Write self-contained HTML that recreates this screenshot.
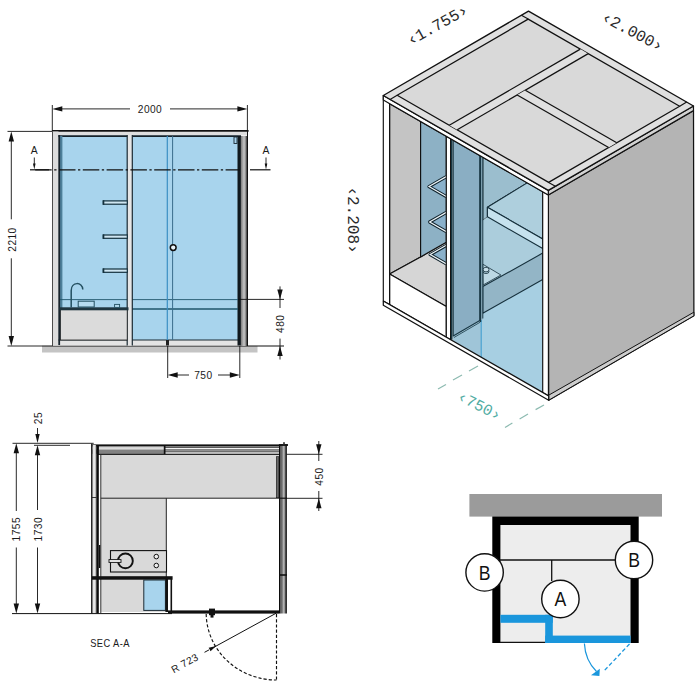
<!DOCTYPE html>
<html>
<head>
<meta charset="utf-8">
<style>
html,body{margin:0;padding:0;background:#fff;}
body{width:700px;height:700px;overflow:hidden;font-family:"Liberation Sans",sans-serif;}
svg{display:block;}
text{font-family:"Liberation Sans",sans-serif;fill:#1a1a1a;}
.dim{font-size:10.2px;letter-spacing:0.45px;}
.lbl{font-size:10.4px;}
.mono{font-family:"Liberation Mono",monospace;font-size:16px;fill:#2a2a2a;}
.monot{font-family:"Liberation Mono",monospace;font-size:15.6px;fill:#52ada4;}
.key{font-size:20px;fill:#111;}
</style>
</head>
<body>
<svg width="700" height="700" viewBox="0 0 700 700">
<rect width="700" height="700" fill="#fff"/>
<g id="front">
<rect x="42" y="346" width="215.5" height="6.5" fill="#c4c4c4" />
<line x1="42" y1="346" x2="284" y2="346" stroke="#111" stroke-width="1.2" />
<rect x="59.5" y="135.5" width="178.5" height="204.5" fill="#a8d4ed" />
<rect x="52.5" y="131.5" width="195" height="4" fill="#dedede" />
<line x1="52" y1="130.9" x2="248.6" y2="130.9" stroke="#111" stroke-width="1.7" />
<line x1="58" y1="136.1" x2="241" y2="136.1" stroke="#16222a" stroke-width="1.6" />
<rect x="52.5" y="340" width="195" height="5.5" fill="#e4e4e4" />
<line x1="58" y1="340" x2="240" y2="340" stroke="#1b2a33" stroke-width="1" />
<rect x="52.5" y="131.5" width="6" height="214" fill="#dcdcdc" />
<line x1="52.5" y1="131.5" x2="52.5" y2="346" stroke="#222" stroke-width="0.8" />
<rect x="59.8" y="136" width="2.6" height="204" fill="#4d7f99" />
<line x1="59.2" y1="135" x2="59.2" y2="345" stroke="#16222a" stroke-width="1.8" />
<defs><linearGradient id="rw" x1="0" x2="1" y1="0" y2="0"><stop offset="0" stop-color="#777"/><stop offset="0.3" stop-color="#a8a8a8"/><stop offset="0.5" stop-color="#c6c6c6"/><stop offset="0.75" stop-color="#8a8a8a"/><stop offset="0.9" stop-color="#444"/><stop offset="1" stop-color="#222"/></linearGradient></defs>
<rect x="240.8" y="136" width="6.6" height="210" fill="url(#rw)" />
<rect x="237.5" y="136" width="3.4" height="209.5" fill="#10181d" />
<line x1="247.5" y1="130.5" x2="247.5" y2="346" stroke="#111" stroke-width="1" />
<line x1="60" y1="299.6" x2="238" y2="299.6" stroke="#1f566b" stroke-width="0.9" />
<line x1="132" y1="309" x2="238" y2="309" stroke="#1f566b" stroke-width="1.3" />
<line x1="167.3" y1="136" x2="167.3" y2="345" stroke="#3c8fc4" stroke-width="1.2" />
<line x1="172.6" y1="136" x2="172.6" y2="340" stroke="#3a6d8c" stroke-width="1" />
<rect x="166" y="340" width="3" height="5.5" fill="#222" />
<rect x="127.2" y="135" width="5" height="210.5" fill="#e6e6e6" />
<line x1="127.2" y1="135" x2="127.2" y2="345.5" stroke="#1b2a33" stroke-width="1.2" />
<line x1="132.3" y1="135" x2="132.3" y2="345.5" stroke="#1b2a33" stroke-width="1.2" />
<rect x="103.3" y="200.9" width="24" height="3.3" fill="#cfe6f2" stroke="#13303d" stroke-width="1.2" />
<rect x="102.7" y="200.3" width="1.6" height="4.5" fill="#13303d" />
<rect x="103.3" y="235" width="24" height="3.3" fill="#cfe6f2" stroke="#13303d" stroke-width="1.2" />
<rect x="102.7" y="234.4" width="1.6" height="4.5" fill="#13303d" />
<rect x="103.3" y="269" width="24" height="3.3" fill="#cfe6f2" stroke="#13303d" stroke-width="1.2" />
<rect x="102.7" y="268.4" width="1.6" height="4.5" fill="#13303d" />
<rect x="60.5" y="309.5" width="66.7" height="30.5" fill="#dbdbdb" stroke="#222" stroke-width="0.8" />
<rect x="59.5" y="307.3" width="69" height="3" fill="#1f3641" />
<path d="M71.2 307.5 V290.5 C71.2 281.5 82.5 281.5 82.8 289.5" fill="none" stroke="#234f60" stroke-width="1.500"/>
<rect x="78.2" y="301.2" width="16" height="5.8" fill="#b6dbef" stroke="#234f60" stroke-width="1" />
<rect x="114.6" y="304.4" width="5" height="3" fill="#b6dbef" stroke="#234f60" stroke-width="0.9" />
<circle cx="173.2" cy="247.6" r="2.9" fill="#e8f3f9" stroke="#111" stroke-width="1.5"/>
<rect x="234" y="137" width="3" height="6.5" fill="#a8d4ed" stroke="#1b2a33" stroke-width="0.9" />
<line x1="35.2" y1="169.8" x2="240" y2="169.8" stroke="#111" stroke-width="1.2" stroke-dasharray="16.5 2.5 2.3 2.5"/>
<line x1="30" y1="169.8" x2="49" y2="169.8" stroke="#111" stroke-width="1.2" />
<line x1="250" y1="169.8" x2="270.5" y2="169.8" stroke="#111" stroke-width="1.2" />
<text x="34.3" y="154" class="lbl" text-anchor="middle" >A</text>
<line x1="34.3" y1="157.5" x2="34.3" y2="166" stroke="#111" stroke-width="0.9" />
<polygon points="34.3,169.6 33,163.6 35.6,163.6" fill="#111" />
<text x="266" y="154" class="lbl" text-anchor="middle" >A</text>
<line x1="266" y1="157.5" x2="266" y2="166" stroke="#111" stroke-width="0.9" />
<polygon points="266,169.6 264.7,163.6 267.3,163.6" fill="#111" />
<line x1="52.3" y1="105" x2="52.3" y2="131" stroke="#111" stroke-width="0.9" />
<line x1="247.4" y1="105" x2="247.4" y2="131" stroke="#111" stroke-width="0.9" />
<line x1="60" y1="108.9" x2="130" y2="108.9" stroke="#111" stroke-width="0.9" />
<line x1="170" y1="108.9" x2="240" y2="108.9" stroke="#111" stroke-width="0.9" />
<polygon points="52.3,108.9 62.3,106.2 62.3,111.6" fill="#111" />
<polygon points="247.4,108.9 237.4,111.6 237.4,106.2" fill="#111" />
<text x="150" y="112.6" class="dim" text-anchor="middle" >2000</text>
<line x1="7.5" y1="131.4" x2="52" y2="131.4" stroke="#111" stroke-width="0.9" />
<line x1="7.5" y1="346" x2="42" y2="346" stroke="#111" stroke-width="0.9" />
<line x1="11.3" y1="139" x2="11.3" y2="219.3" stroke="#111" stroke-width="0.9" />
<line x1="11.3" y1="258.3" x2="11.3" y2="338" stroke="#111" stroke-width="0.9" />
<polygon points="11.3,131.4 14,141.4 8.6,141.4" fill="#111" />
<polygon points="11.3,346 8.6,336 14,336" fill="#111" />
<text x="15.6" y="239.5" class="dim" text-anchor="middle" transform="rotate(-90 15.6 239.5)" >2210</text>
<line x1="238" y1="299.4" x2="284" y2="299.4" stroke="#111" stroke-width="0.9" />
<line x1="280" y1="286.4" x2="280" y2="308" stroke="#111" stroke-width="0.9" />
<line x1="280" y1="338.6" x2="280" y2="359.5" stroke="#111" stroke-width="0.9" />
<polygon points="280,299.4 277.3,289.4 282.7,289.4" fill="#111" />
<polygon points="280,346 282.7,356 277.3,356" fill="#111" />
<text x="283.8" y="323.8" class="dim" text-anchor="middle" transform="rotate(-90 283.8 323.8)" >480</text>
<line x1="167.7" y1="346" x2="167.7" y2="378" stroke="#111" stroke-width="0.9" />
<line x1="239.8" y1="346" x2="239.8" y2="378" stroke="#111" stroke-width="0.9" />
<line x1="175" y1="375" x2="189" y2="375" stroke="#111" stroke-width="0.9" />
<line x1="218" y1="375" x2="232" y2="375" stroke="#111" stroke-width="0.9" />
<polygon points="167.7,375 177.7,372.3 177.7,377.7" fill="#111" />
<polygon points="239.8,375 229.8,377.7 229.8,372.3" fill="#111" />
<text x="203.4" y="378.7" class="dim" text-anchor="middle" >750</text>
</g>
<g id="plan">
<rect x="100.6" y="454.5" width="178.5" height="43.7" fill="#d9d9d9" />
<rect x="100.6" y="498" width="65.6" height="114" fill="#d9d9d9" />
<rect x="166.2" y="580" width="6" height="31" fill="#fff" />
<line x1="100.6" y1="498.2" x2="279" y2="498.2" stroke="#222" stroke-width="1" />
<line x1="166.3" y1="498.2" x2="166.3" y2="578" stroke="#222" stroke-width="1" />
<rect x="92" y="446" width="72.8" height="1.5" fill="#9a9a9a" />
<rect x="92" y="447.5" width="72.8" height="2" fill="#dcdcdc" />
<rect x="92" y="449.5" width="72.8" height="4.3" fill="#828282" />
<rect x="164.8" y="446" width="114.4" height="1.3" fill="#8c8c8c" />
<rect x="164.8" y="447.3" width="114.4" height="0.8" fill="#222" />
<rect x="164.8" y="448.1" width="114.4" height="1.4" fill="#f4f4f4" />
<rect x="164.8" y="449.5" width="114.4" height="1" fill="#111" />
<rect x="164.8" y="450.5" width="114.4" height="1" fill="#999" />
<rect x="164.8" y="451.5" width="114.4" height="1" fill="#111" />
<rect x="164.8" y="452.5" width="114.4" height="1.3" fill="#f4f4f4" />
<rect x="92" y="444.4" width="195" height="1.7" fill="#111" />
<rect x="98" y="453.7" width="181.5" height="1.2" fill="#111" />
<rect x="163.8" y="446" width="1.7" height="8" fill="#111" />
<defs><linearGradient id="lw" x1="0" x2="1" y1="0" y2="0"><stop offset="0" stop-color="#8a8a8a"/><stop offset="0.35" stop-color="#f2f2f2"/><stop offset="0.7" stop-color="#e0e0e0"/><stop offset="1" stop-color="#7a7a7a"/></linearGradient><linearGradient id="rw2" x1="0" x2="1" y1="0" y2="0"><stop offset="0" stop-color="#4c4c4c"/><stop offset="0.3" stop-color="#7c7c7c"/><stop offset="0.5" stop-color="#b8b8b8"/><stop offset="0.68" stop-color="#8a8a8a"/><stop offset="0.8" stop-color="#3a3a3a"/><stop offset="1" stop-color="#2a2a2a"/></linearGradient></defs>
<rect x="92.3" y="445" width="4" height="168.5" fill="url(#lw)" />
<rect x="91.1" y="443.6" width="1.2" height="170" fill="#111" />
<rect x="96.3" y="445" width="2.6" height="168.5" fill="#0c0c0c" />
<rect x="98.9" y="455" width="1.4" height="158" fill="#fff" />
<rect x="100.3" y="455" width="1" height="158" fill="#333" />
<line x1="91.5" y1="497.5" x2="96.5" y2="497.5" stroke="#222" stroke-width="0.9" />
<line x1="99.6" y1="545" x2="99.6" y2="568" stroke="#111" stroke-width="1.4" />
<rect x="280.3" y="445" width="6.7" height="168.5" fill="url(#rw2)" />
<rect x="279" y="445" width="1.3" height="168.5" fill="#0c0c0c" />
<rect x="278.9" y="444.1" width="9.1" height="1.8" fill="#111" />
<rect x="283" y="442.2" width="2" height="2" fill="#555" />
<line x1="279" y1="498.2" x2="287" y2="498.2" stroke="#111" stroke-width="1.2" />
<line x1="279" y1="575" x2="287" y2="575" stroke="#111" stroke-width="1.6" />
<rect x="276.3" y="456.7" width="2.6" height="41" fill="#6a6a6a" stroke="#111" stroke-width="0.6" />
<rect x="110.5" y="550.6" width="56" height="21.4" fill="#d9d9d9" stroke="#111" stroke-width="1.1" />
<circle cx="125.4" cy="560.9" r="7.4" fill="#d9d9d9" stroke="#111" stroke-width="1.9"/>
<rect x="109" y="559.6" width="12" height="2.8" fill="#eee" stroke="#111" stroke-width="0.9" />
<circle cx="156.3" cy="556.6" r="2.3" fill="#eee" stroke="#111" stroke-width="1"/>
<circle cx="156.3" cy="565.5" r="2.3" fill="#eee" stroke="#111" stroke-width="1"/>
<rect x="92" y="576.2" width="80.6" height="3.5" fill="#111" />
<rect x="143.8" y="580" width="21.6" height="30.4" fill="#a8d4ed" stroke="#1b2a33" stroke-width="1" />
<rect x="165.4" y="579" width="2.6" height="33" fill="#111" />
<line x1="171.3" y1="579" x2="171.3" y2="612" stroke="#111" stroke-width="1.6" />
<line x1="12" y1="613.6" x2="172" y2="613.6" stroke="#111" stroke-width="1" />
<rect x="168" y="610.4" width="111" height="3.2" fill="#111" />
<rect x="209" y="608.6" width="6" height="6.6" fill="#111" />
<rect x="210.5" y="615" width="3" height="2.6" fill="#111" />
<path d="M206.2 614 A70.3 67 0 0 0 276.5 680" fill="none" stroke="#111" stroke-width="1.15" stroke-dasharray="3.2 2"/>
<line x1="276.5" y1="614" x2="276.5" y2="680" stroke="#111" stroke-width="1.15" stroke-dasharray="3.2 2"/>
<line x1="276.5" y1="613" x2="214" y2="647.2" stroke="#111" stroke-width="1" />
<line x1="204.5" y1="652.3" x2="209" y2="649.9" stroke="#111" stroke-width="1" />
<polygon points="216.2,646 210.55,651.32 208.65,647.8" fill="#111" />
<text x="186.5" y="666.3" class="dim" text-anchor="middle" transform="rotate(-29 186.5 666.3)" >R 723</text>
<text x="90.2" y="646.6" class="dim" text-anchor="start" textLength="39.6" lengthAdjust="spacingAndGlyphs">SEC A-A</text>
<line x1="12.5" y1="443.3" x2="93.7" y2="443.3" stroke="#111" stroke-width="0.9" />
<line x1="16.3" y1="451" x2="16.3" y2="511" stroke="#111" stroke-width="0.9" />
<line x1="16.3" y1="547.5" x2="16.3" y2="606" stroke="#111" stroke-width="0.9" />
<polygon points="16.3,443.3 19,453.3 13.6,453.3" fill="#111" />
<polygon points="16.3,613.6 13.6,603.6 19,603.6" fill="#111" />
<text x="20.5" y="529.2" class="dim" text-anchor="middle" transform="rotate(-90 20.5 529.2)" >1755</text>
<line x1="34" y1="445.3" x2="70" y2="445.3" stroke="#111" stroke-width="0.9" />
<line x1="37.5" y1="453" x2="37.5" y2="510" stroke="#111" stroke-width="0.9" />
<line x1="37.5" y1="547.5" x2="37.5" y2="606" stroke="#111" stroke-width="0.9" />
<polygon points="37.5,445.3 40.2,455.3 34.8,455.3" fill="#111" />
<polygon points="37.5,613.6 34.8,603.6 40.2,603.6" fill="#111" />
<text x="41.7" y="529.2" class="dim" text-anchor="middle" transform="rotate(-90 41.7 529.2)" >1730</text>
<line x1="37.5" y1="428" x2="37.5" y2="434" stroke="#111" stroke-width="0.9" />
<polygon points="37.5,443 35.3,434 39.7,434" fill="#111" />
<text x="41.5" y="418" class="dim" text-anchor="middle" transform="rotate(-90 41.5 418)" >25</text>
<line x1="286.5" y1="454.3" x2="322.5" y2="454.3" stroke="#111" stroke-width="0.9" />
<line x1="286.5" y1="498.3" x2="322.5" y2="498.3" stroke="#111" stroke-width="0.9" />
<line x1="318.8" y1="441" x2="318.8" y2="461" stroke="#111" stroke-width="0.9" />
<line x1="318.8" y1="491" x2="318.8" y2="511" stroke="#111" stroke-width="0.9" />
<polygon points="318.8,454.3 316.1,444.3 321.5,444.3" fill="#111" />
<polygon points="318.8,498.3 321.5,508.3 316.1,508.3" fill="#111" />
<text x="323" y="476.5" class="dim" text-anchor="middle" transform="rotate(-90 323 476.5)" >450</text>
</g>
<g id="key">
<rect x="469.4" y="494" width="192.6" height="22.6" fill="#9b9b9b" />
<rect x="492.3" y="516.5" width="146.4" height="126.5" fill="#000" />
<rect x="500.4" y="525" width="130.1" height="118.2" fill="#ededed" />
<rect x="492.3" y="643" width="146.4" height="1" fill="#fff" />
<line x1="500" y1="560" x2="631" y2="560" stroke="#111" stroke-width="1.3" />
<line x1="551.7" y1="560" x2="551.7" y2="581" stroke="#111" stroke-width="1.3" />
<line x1="500" y1="642.4" x2="546" y2="642.4" stroke="#111" stroke-width="1.3" />
<rect x="500.4" y="614.8" width="52.4" height="8" fill="#1a96dc" />
<rect x="545.2" y="614.8" width="7.6" height="28.2" fill="#1a96dc" />
<rect x="545.2" y="635.6" width="85.4" height="7.4" fill="#1a96dc" />
<circle cx="484.6" cy="572.4" r="18.7" fill="#fff" stroke="#111" stroke-width="1.4"/>
<text class="key" text-anchor="middle" transform="translate(484.6 579.6) scale(0.88 1)">B</text>
<circle cx="634" cy="560" r="18.7" fill="#fff" stroke="#111" stroke-width="1.4"/>
<text class="key" text-anchor="middle" transform="translate(634 567.2) scale(0.88 1)">B</text>
<circle cx="560.4" cy="599" r="18.7" fill="#fff" stroke="#111" stroke-width="1.4"/>
<text class="key" text-anchor="middle" transform="translate(560.4 606.2) scale(0.88 1)">A</text>
<path d="M584.4 643.5 C585 656 590 665 596.5 671.5" fill="none" stroke="#1a96dc" stroke-width="1.2"/>
<polygon points="599.8,668.8 591,675.2 599.4,676" fill="#1a96dc" />
<line x1="629.5" y1="644" x2="603.5" y2="671.5" stroke="#1a96dc" stroke-width="1.3" stroke-dasharray="4 2.4"/>
</g>
<g id="iso" stroke-linejoin="round">
<polygon points="548.3,195 693.5,110.6 693.9,315.8 548.7,400.2" fill="#b4b4b4" stroke="#111" stroke-width="1.25" stroke-linejoin="round" />
<polygon points="548.7,395.2 693.9,312.2 693.9,315.8 548.7,400.2" fill="#cdcdcd" stroke="#111" stroke-width="1.0" stroke-linejoin="round" />
<polygon points="548.3,190.4 693.5,106 693.5,110.6 548.3,195" fill="#d2d2d2" stroke="#111" stroke-width="1.15" stroke-linejoin="round" />
<polygon points="389.6,103.72 420.6,121.55 420.6,256.9 389.6,274" fill="#c4c4c4" stroke="#111" stroke-width="1.15" stroke-linejoin="round" />
<polygon points="389.6,274 420.6,256.9 446.3,242.1 446.3,306.6" fill="#d6d6d6" stroke="#111" stroke-width="1.15" stroke-linejoin="round" />
<polygon points="420.6,121.55 446.3,136.33 446.3,242.3 420.6,256.9" fill="#8db1c5" stroke="#111" stroke-width="1.15" stroke-linejoin="round" />
<polygon points="389.6,274 446.3,306.6 446.3,337.23 389.6,304.62" fill="#fff" stroke="#111" stroke-width="1.15" stroke-linejoin="round" />
<polygon points="446.3,176.62 429,186.6 446.3,196.58" fill="#8ab1cb" />
<polyline points="446.3,176.62 429,186.6 446.3,196.58" fill="none" stroke="#10222b" stroke-width="3.3" stroke-linejoin="round"/>
<polyline points="446.3,176.62 429,186.6 446.3,196.58" fill="none" stroke="#eef6fa" stroke-width="1.2" stroke-linejoin="miter"/>
<polygon points="446.3,212.36 429.6,222 446.3,231.64" fill="#8ab1cb" />
<polyline points="446.3,212.36 429.6,222 446.3,231.64" fill="none" stroke="#10222b" stroke-width="3.3" stroke-linejoin="round"/>
<polyline points="446.3,212.36 429.6,222 446.3,231.64" fill="none" stroke="#eef6fa" stroke-width="1.2" stroke-linejoin="miter"/>
<polygon points="446.3,245.31 430.2,254.6 446.3,263.89" fill="#8ab1cb" />
<polyline points="446.3,245.31 430.2,254.6 446.3,263.89" fill="none" stroke="#10222b" stroke-width="3.3" stroke-linejoin="round"/>
<polyline points="446.3,245.31 430.2,254.6 446.3,263.89" fill="none" stroke="#eef6fa" stroke-width="1.2" stroke-linejoin="miter"/>
<polygon points="482.8,157.33 542.7,191.78 542.7,392.68 453.2,341.2 453.2,336 479.8,320.6 482.8,318" fill="#a7cfe2" />
<polygon points="482.8,157.33 527.2,182.86 487.4,207.2 487.4,216.8 482.8,220.6" fill="#9bbece" stroke="#111" stroke-width="1.0" stroke-linejoin="round" />
<polygon points="482.8,220.6 487.4,216.8 542.7,248.6 542.7,253.1 482.8,286.6" fill="#abcddc" />
<polygon points="482.8,286.6 542.7,253.1 542.7,279.5 482.8,313.2" fill="#93b5c6" stroke="#16303c" stroke-width="1.1" stroke-linejoin="round" />
<polygon points="482.8,264.2 500.9,275 483.1,285" fill="#bcd8e4" stroke="#16303c" stroke-width="0.8" stroke-linejoin="round" />
<ellipse cx="486" cy="271.3" rx="3" ry="2.3" fill="#a9cbd9" stroke="#16303c" stroke-width="0.8"/>
<ellipse cx="486" cy="269.6" rx="3" ry="2.3" fill="#c5dde8" stroke="#16303c" stroke-width="0.8"/>
<polygon points="487.4,207.2 527.2,182.86 542.7,191.78 542.7,239" fill="#aecfdd" stroke="#16303c" stroke-width="1.1" stroke-linejoin="round" />
<polygon points="487.4,207.2 542.7,239 542.7,248.6 487.4,216.8" fill="#c6e2ee" stroke="#16303c" stroke-width="1.1" stroke-linejoin="round" />
<rect x="479.8" y="155.6" width="3" height="164" fill="#95b8c9" />
<line x1="482.8" y1="157.33" x2="482.8" y2="318.5" stroke="#173643" stroke-width="1" />
<polygon points="453.2,336 481.2,320.2 481.2,357.31 453.2,341.2" fill="#9fc5d8" />
<line x1="481.2" y1="320" x2="481.2" y2="357.31" stroke="#3a9bd0" stroke-width="1" />
<polygon points="453.2,140.3 479.8,155.6 479.8,320.6 453.2,336" fill="#8aaec3" stroke="#173643" stroke-width="1.1" stroke-linejoin="round" />
<line x1="453.8" y1="337.6" x2="480.2" y2="322.2" stroke="#173643" stroke-width="0.8" />
<line x1="480.4" y1="155.6" x2="480.4" y2="322" stroke="#173643" stroke-width="1.6" />
<polygon points="446.3,136.33 450.6,138.81 450.6,339.71 446.3,337.23" fill="#fff" stroke="#111" stroke-width="1.15" stroke-linejoin="round" />
<line x1="451.8" y1="138.81" x2="451.8" y2="339.71" stroke="#173643" stroke-width="1.6" />
<polygon points="383.3,95.5 389.6,103.72 389.6,304.62 383.3,301" fill="#fff" stroke="#111" stroke-width="1.15" stroke-linejoin="round" />
<polygon points="542.7,191.78 548.4,195 548.4,395.96 542.7,392.68" fill="#fff" stroke="#111" stroke-width="1.15" stroke-linejoin="round" />
<polygon points="383.3,301 548.7,395.9 548.7,400.2 383.3,305.3" fill="#fff" stroke="#111" stroke-width="1.25" stroke-linejoin="round" />
<polygon points="383.3,95.5 548.3,190.4 548.3,195 383.3,100.1" fill="#fff" stroke="#111" stroke-width="1.15" stroke-linejoin="round" />
<polygon points="383.3,95.5 528.5,11.1 693.5,106 548.3,190.4" fill="#e0e0e0" stroke="#111" stroke-width="1.35" stroke-linejoin="round" />
<polygon points="397.15,95.27 528.17,19.11 679.65,106.23 548.63,182.39" fill="#d9d9d9" stroke="#111" stroke-width="1.25" stroke-linejoin="round" />
<line x1="390.06" y1="99.39" x2="397.15" y2="95.27" stroke="#111" stroke-width="1.15" />
<line x1="521.41" y1="15.22" x2="528.17" y2="19.11" stroke="#111" stroke-width="1.15" />
<line x1="686.74" y1="102.11" x2="679.65" y2="106.23" stroke="#111" stroke-width="1.15" />
<line x1="555.39" y1="186.28" x2="548.63" y2="182.39" stroke="#111" stroke-width="1.15" />
<polygon points="449.3,125.26 580.31,49.1 588.23,53.66 457.22,129.81" fill="#e0e0e0" />
<line x1="449.3" y1="125.26" x2="580.31" y2="49.1" stroke="#111" stroke-width="1.25" />
<line x1="457.22" y1="129.81" x2="588.23" y2="53.66" stroke="#111" stroke-width="1.25" />
<polygon points="517.21,94.94 525.34,90.22 616.75,142.79 608.62,147.52" fill="#e0e0e0" />
<line x1="517.21" y1="94.94" x2="608.62" y2="147.52" stroke="#111" stroke-width="1.25" />
<line x1="525.34" y1="90.22" x2="616.75" y2="142.79" stroke="#111" stroke-width="1.25" />
<line x1="478" y1="366" x2="469" y2="371" stroke="#8cbab0" stroke-width="1.2" />
<line x1="462" y1="375" x2="453" y2="380" stroke="#8cbab0" stroke-width="1.2" />
<line x1="446" y1="384.4" x2="438" y2="389" stroke="#8cbab0" stroke-width="1.2" />
<line x1="544" y1="405" x2="535.6" y2="409.6" stroke="#8cbab0" stroke-width="1.2" />
<line x1="528" y1="414" x2="519.6" y2="419" stroke="#8cbab0" stroke-width="1.2" />
<line x1="512.4" y1="423" x2="505" y2="427.4" stroke="#8cbab0" stroke-width="1.2" />
<text x="479" y="406.5" class="monot" text-anchor="middle" transform="rotate(27 479 406.5)" dominant-baseline="central">&#8249;750&#8250;</text>
<text x="437.9" y="26" class="mono" text-anchor="middle" transform="rotate(-29 437.9 26)" dominant-baseline="central">&#8249;1.755&#8250;</text>
<text x="632" y="32.5" class="mono" text-anchor="middle" transform="rotate(28 632 32.5)" dominant-baseline="central">&#8249;2.000&#8250;</text>
<text x="351.6" y="220" class="mono" text-anchor="middle" transform="rotate(90 351.6 220)" dominant-baseline="central">&#8249;2.208&#8250;</text>
</g>
</svg>
</body>
</html>
